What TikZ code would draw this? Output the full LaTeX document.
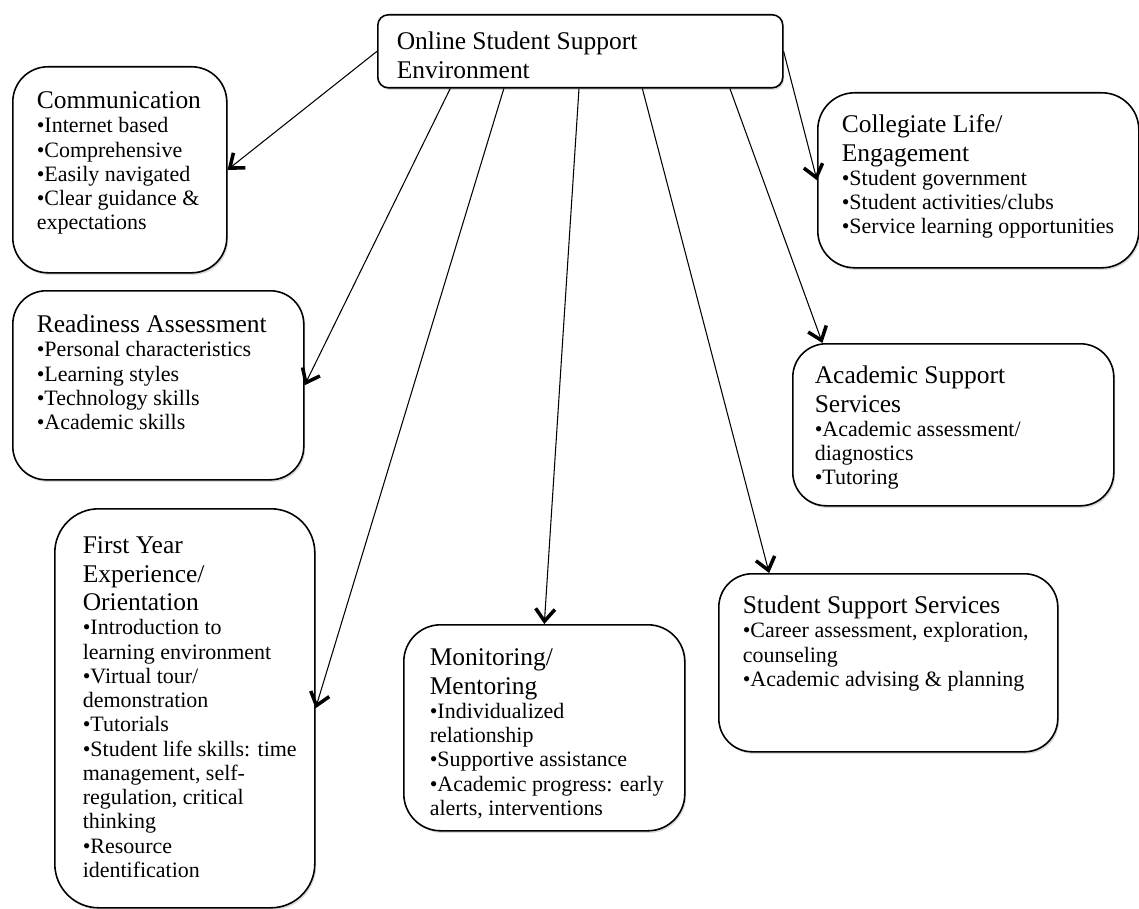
\documentclass[tikz,border=0pt]{standalone}
\usepackage{fontspec}
\setmainfont{Liberation Serif}
\usepackage{tikz}
\usetikzlibrary{arrows.meta,shadows}
\newlength\px
\setlength\px{0.02cm}
\newcommand{\ptitle}{\fontsize{14.5}{16.2}\selectfont}
\newcommand{\pitem}{\fontsize{12.5}{13.8}\selectfont}
\newcommand{\panelbody}[5]{\parbox[c][#2\px][t]{#1\px}{\vspace*{#4\px}\raggedright\leftskip=#3\px\parskip=0pt\relax #5}}

\begin{document}
\begin{tikzpicture}[x=0.02cm, y=-0.02cm,
    panel/.style={draw, line width=0.9pt, fill=white, inner sep=0pt, anchor=north west,
        drop shadow={shadow xshift=0.8pt, shadow yshift=-1.2pt, opacity=0.3}},
    arr/.style={line width=0.6pt, -{Straight Barb[length=7pt, width=11pt, line width=2pt]}}]
    \useasboundingbox (0,0) rectangle (1139,909);
    \node[panel, rounded corners=6pt] (env) at (377,14) {\panelbody{405}{73}{19}{15}{\ptitle\strut Online Student Support\\Environment}};
    \node[panel, rounded corners=20pt] (comm) at (12,66) {\panelbody{214}{206}{24}{22}{\ptitle\strut Communication\par\pitem •Internet based\\•Comprehensive\\•Easily navigated\\•Clear guidance \&\\expectations}};
    \node[panel, rounded corners=19pt] (ready) at (12,290) {\panelbody{291}{189}{24}{22}{\ptitle\strut Readiness Assessment\par\pitem •Personal characteristics\\•Learning styles\\•Technology skills\\•Academic skills}};
    \node[panel, rounded corners=25pt] (fye) at (54,508) {\panelbody{260}{399}{28}{25}{\ptitle\strut First Year\\Experience/\\Orientation\par\pitem •Introduction to\\learning environment\\•Virtual tour/\\demonstration\\•Tutorials\\•Student life skills: time\\management, self-\\regulation, critical\\thinking\\•Resource\\identification}};
    \node[panel, rounded corners=21pt] (mentor) at (403,624) {\panelbody{281}{206}{26}{21}{\ptitle\strut Monitoring/\\Mentoring\par\pitem •Individualized\\relationship\\•Supportive assistance\\•Academic progress: early\\alerts, interventions}};
    \node[panel, rounded corners=19pt] (support) at (718,573) {\panelbody{339}{178}{24}{20}{\ptitle\strut Student Support Services\par\pitem •Career assessment, exploration,\\counseling\\•Academic advising \& planning}};
    \node[panel, rounded corners=19pt] (academic) at (792,343) {\panelbody{321}{162}{22}{20}{\ptitle\strut Academic Support\\Services\par\pitem •Academic assessment/\\diagnostics\\•Tutoring}};
    \node[panel, rounded corners=21pt] (life) at (817,92) {\panelbody{321}{175}{24}{20}{\ptitle\strut Collegiate Life/\\Engagement\par\pitem •Student government\\•Student activities/clubs\\•Service learning opportunities}};
    \draw[arr] (env.west) -- (comm.east);
    \draw[arr] (env.196) -- (ready.east);
    \draw[arr] (env.206) -- (fye.east);
    \draw[arr] (env.268) -- (mentor.north);
    \draw[arr] (env.329) -- (support.143);
    \draw[arr] (env.346) -- (academic.148);
    \draw[arr] (env.east) -- (life.west);
\end{tikzpicture}
\end{document}
